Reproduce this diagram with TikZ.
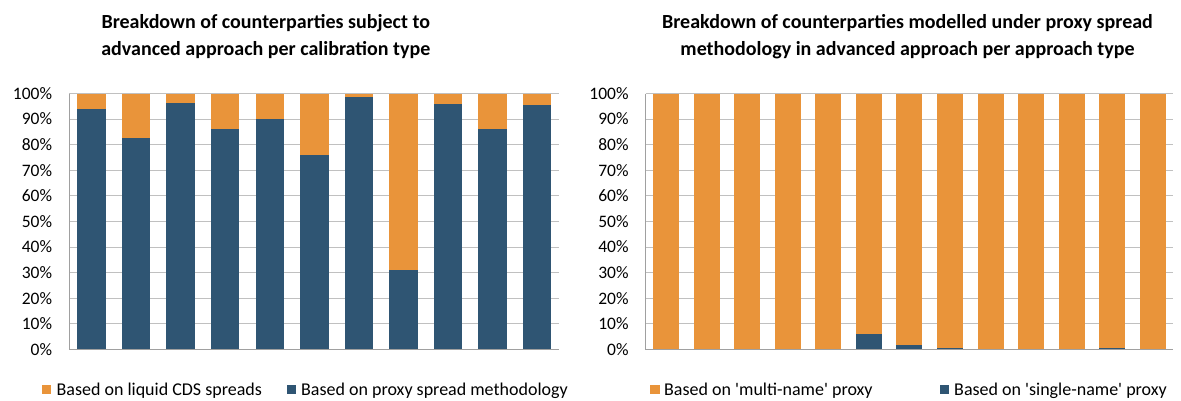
\documentclass[tikz,border=0pt]{standalone}
\usepackage{fontspec}
\setmainfont{Carlito}
\newfontfamily\straightfont{Carlito}

\definecolor{liquid}{HTML}{E9943A}
\definecolor{proxy}{HTML}{2F5573}
\definecolor{gridgray}{HTML}{C0C0C0}
\definecolor{axisgray}{HTML}{A0A0A0}

\begin{document}
\begin{tikzpicture}[x=1pt, y=1pt,
  gridline/.style={draw=gridgray, line width=0.9pt},
  axisline/.style={draw=axisgray, line width=1.3pt},
  ticklabel/.style={anchor=east, inner sep=0pt, font=\fontsize{17.5}{21}\selectfont},
  legendbox/.style={minimum size=9.5pt, inner sep=0pt},
  legendtext/.style={anchor=base west, inner sep=0pt, font=\fontsize{18}{22}\selectfont},
  charttitle/.style={align=center, font=\fontsize{20}{27}\selectfont\bfseries}]

  \useasboundingbox (0, 0) rectangle (1181, 400);

  % Left chart: per calibration type
  \node[charttitle] (title_l) at (265.8, 363.5) {Breakdown of counterparties subject to\\advanced approach per calibration type};

  \draw[gridline] (69.3, 50.7 + 1 * 25.58) -- (559.3, 50.7 + 1 * 25.58);
  \draw[gridline] (69.3, 50.7 + 2 * 25.58) -- (559.3, 50.7 + 2 * 25.58);
  \draw[gridline] (69.3, 50.7 + 3 * 25.58) -- (559.3, 50.7 + 3 * 25.58);
  \draw[gridline] (69.3, 50.7 + 4 * 25.58) -- (559.3, 50.7 + 4 * 25.58);
  \draw[gridline] (69.3, 50.7 + 5 * 25.58) -- (559.3, 50.7 + 5 * 25.58);
  \draw[gridline] (69.3, 50.7 + 6 * 25.58) -- (559.3, 50.7 + 6 * 25.58);
  \draw[gridline] (69.3, 50.7 + 7 * 25.58) -- (559.3, 50.7 + 7 * 25.58);
  \draw[gridline] (69.3, 50.7 + 8 * 25.58) -- (559.3, 50.7 + 8 * 25.58);
  \draw[gridline] (69.3, 50.7 + 9 * 25.58) -- (559.3, 50.7 + 9 * 25.58);
  \draw[gridline] (69.3, 50.7 + 10 * 25.58) -- (559.3, 50.7 + 10 * 25.58);

  \node[ticklabel] (yl_0) at (52.3, 50.7 + 0 * 25.58) {0\%};
  \node[ticklabel] (yl_10) at (52.3, 50.7 + 1 * 25.58) {10\%};
  \node[ticklabel] (yl_20) at (52.3, 50.7 + 2 * 25.58) {20\%};
  \node[ticklabel] (yl_30) at (52.3, 50.7 + 3 * 25.58) {30\%};
  \node[ticklabel] (yl_40) at (52.3, 50.7 + 4 * 25.58) {40\%};
  \node[ticklabel] (yl_50) at (52.3, 50.7 + 5 * 25.58) {50\%};
  \node[ticklabel] (yl_60) at (52.3, 50.7 + 6 * 25.58) {60\%};
  \node[ticklabel] (yl_70) at (52.3, 50.7 + 7 * 25.58) {70\%};
  \node[ticklabel] (yl_80) at (52.3, 50.7 + 8 * 25.58) {80\%};
  \node[ticklabel] (yl_90) at (52.3, 50.7 + 9 * 25.58) {90\%};
  \node[ticklabel] (yl_100) at (52.3, 50.7 + 10 * 25.58) {100\%};

  \fill[liquid] (77.3 + 0 * 44.55, 50.7) rectangle ++(28.5, 255.8);
  \fill[proxy] (77.3 + 0 * 44.55, 50.7) rectangle ++(28.5, 94.1 * 2.558);
  \fill[liquid] (77.3 + 1 * 44.55, 50.7) rectangle ++(28.5, 255.8);
  \fill[proxy] (77.3 + 1 * 44.55, 50.7) rectangle ++(28.5, 82.7 * 2.558);
  \fill[liquid] (77.3 + 2 * 44.55, 50.7) rectangle ++(28.5, 255.8);
  \fill[proxy] (77.3 + 2 * 44.55, 50.7) rectangle ++(28.5, 96.1 * 2.558);
  \fill[liquid] (77.3 + 3 * 44.55, 50.7) rectangle ++(28.5, 255.8);
  \fill[proxy] (77.3 + 3 * 44.55, 50.7) rectangle ++(28.5, 86.2 * 2.558);
  \fill[liquid] (77.3 + 4 * 44.55, 50.7) rectangle ++(28.5, 255.8);
  \fill[proxy] (77.3 + 4 * 44.55, 50.7) rectangle ++(28.5, 90.2 * 2.558);
  \fill[liquid] (77.3 + 5 * 44.55, 50.7) rectangle ++(28.5, 255.8);
  \fill[proxy] (77.3 + 5 * 44.55, 50.7) rectangle ++(28.5, 75.8 * 2.558);
  \fill[liquid] (77.3 + 6 * 44.55, 50.7) rectangle ++(28.5, 255.8);
  \fill[proxy] (77.3 + 6 * 44.55, 50.7) rectangle ++(28.5, 98.5 * 2.558);
  \fill[liquid] (77.3 + 7 * 44.55, 50.7) rectangle ++(28.5, 255.8);
  \fill[proxy] (77.3 + 7 * 44.55, 50.7) rectangle ++(28.5, 31.1 * 2.558);
  \fill[liquid] (77.3 + 8 * 44.55, 50.7) rectangle ++(28.5, 255.8);
  \fill[proxy] (77.3 + 8 * 44.55, 50.7) rectangle ++(28.5, 95.8 * 2.558);
  \fill[liquid] (77.3 + 9 * 44.55, 50.7) rectangle ++(28.5, 255.8);
  \fill[proxy] (77.3 + 9 * 44.55, 50.7) rectangle ++(28.5, 86.2 * 2.558);
  \fill[liquid] (77.3 + 10 * 44.55, 50.7) rectangle ++(28.5, 255.8);
  \fill[proxy] (77.3 + 10 * 44.55, 50.7) rectangle ++(28.5, 95.4 * 2.558);

  \draw[axisline] (69.3, 306.5) -- (69.3, 50.7) -- (559.3, 50.7);

  \node[legendbox, fill=liquid] (key_l1) at (46.7, 10.5) {};
  \node[legendtext] (key_l1_text) at (56.4, 5) {Based on liquid CDS spreads};
  \node[legendbox, fill=proxy] (key_l2) at (291.4, 10.5) {};
  \node[legendtext] (key_l2_text) at (301, 5) {Based on proxy spread methodology};

  % Right chart: per approach type
  \node[charttitle] (title_r) at (907.5, 363.5) {Breakdown of counterparties modelled under proxy spread\\methodology in advanced approach per approach type};

  \draw[gridline] (645.7, 50.7 + 1 * 25.58) -- (1173.1, 50.7 + 1 * 25.58);
  \draw[gridline] (645.7, 50.7 + 2 * 25.58) -- (1173.1, 50.7 + 2 * 25.58);
  \draw[gridline] (645.7, 50.7 + 3 * 25.58) -- (1173.1, 50.7 + 3 * 25.58);
  \draw[gridline] (645.7, 50.7 + 4 * 25.58) -- (1173.1, 50.7 + 4 * 25.58);
  \draw[gridline] (645.7, 50.7 + 5 * 25.58) -- (1173.1, 50.7 + 5 * 25.58);
  \draw[gridline] (645.7, 50.7 + 6 * 25.58) -- (1173.1, 50.7 + 6 * 25.58);
  \draw[gridline] (645.7, 50.7 + 7 * 25.58) -- (1173.1, 50.7 + 7 * 25.58);
  \draw[gridline] (645.7, 50.7 + 8 * 25.58) -- (1173.1, 50.7 + 8 * 25.58);
  \draw[gridline] (645.7, 50.7 + 9 * 25.58) -- (1173.1, 50.7 + 9 * 25.58);
  \draw[gridline] (645.7, 50.7 + 10 * 25.58) -- (1173.1, 50.7 + 10 * 25.58);

  \node[ticklabel] (yr_0) at (628.8, 50.7 + 0 * 25.58) {0\%};
  \node[ticklabel] (yr_10) at (628.8, 50.7 + 1 * 25.58) {10\%};
  \node[ticklabel] (yr_20) at (628.8, 50.7 + 2 * 25.58) {20\%};
  \node[ticklabel] (yr_30) at (628.8, 50.7 + 3 * 25.58) {30\%};
  \node[ticklabel] (yr_40) at (628.8, 50.7 + 4 * 25.58) {40\%};
  \node[ticklabel] (yr_50) at (628.8, 50.7 + 5 * 25.58) {50\%};
  \node[ticklabel] (yr_60) at (628.8, 50.7 + 6 * 25.58) {60\%};
  \node[ticklabel] (yr_70) at (628.8, 50.7 + 7 * 25.58) {70\%};
  \node[ticklabel] (yr_80) at (628.8, 50.7 + 8 * 25.58) {80\%};
  \node[ticklabel] (yr_90) at (628.8, 50.7 + 9 * 25.58) {90\%};
  \node[ticklabel] (yr_100) at (628.8, 50.7 + 10 * 25.58) {100\%};

  \fill[liquid] (653.0 + 0 * 40.57, 50.7) rectangle ++(26, 255.8);
  \fill[liquid] (653.0 + 1 * 40.57, 50.7) rectangle ++(26, 255.8);
  \fill[liquid] (653.0 + 2 * 40.57, 50.7) rectangle ++(26, 255.8);
  \fill[liquid] (653.0 + 3 * 40.57, 50.7) rectangle ++(26, 255.8);
  \fill[liquid] (653.0 + 4 * 40.57, 50.7) rectangle ++(26, 255.8);
  \fill[liquid] (653.0 + 5 * 40.57, 50.7) rectangle ++(26, 255.8);
  \fill[proxy] (653.0 + 5 * 40.57, 50.7) rectangle ++(26, 5.9 * 2.558);
  \fill[liquid] (653.0 + 6 * 40.57, 50.7) rectangle ++(26, 255.8);
  \fill[proxy] (653.0 + 6 * 40.57, 50.7) rectangle ++(26, 1.8 * 2.558);
  \fill[liquid] (653.0 + 7 * 40.57, 50.7) rectangle ++(26, 255.8);
  \fill[proxy] (653.0 + 7 * 40.57, 50.7) rectangle ++(26, 0.7 * 2.558);
  \fill[liquid] (653.0 + 8 * 40.57, 50.7) rectangle ++(26, 255.8);
  \fill[liquid] (653.0 + 9 * 40.57, 50.7) rectangle ++(26, 255.8);
  \fill[liquid] (653.0 + 10 * 40.57, 50.7) rectangle ++(26, 255.8);
  \fill[liquid] (653.0 + 11 * 40.57, 50.7) rectangle ++(26, 255.8);
  \fill[proxy] (653.0 + 11 * 40.57, 50.7) rectangle ++(26, 0.7 * 2.558);
  \fill[liquid] (653.0 + 12 * 40.57, 50.7) rectangle ++(26, 255.8);

  \draw[axisline] (645.7, 306.5) -- (645.7, 50.7) -- (1173.1, 50.7);

  \node[legendbox, fill=liquid] (key_r1) at (654.8, 10.5) {};
  \node[legendtext, font=\fontsize{18}{22}\straightfont] (key_r1_text) at (664, 5) {Based on 'multi-name' proxy};
  \node[legendbox, fill=proxy] (key_r2) at (944.6, 10.5) {};
  \node[legendtext, font=\fontsize{18}{22}\straightfont] (key_r2_text) at (954, 5) {Based on 'single-name' proxy};
\end{tikzpicture}
\end{document}
